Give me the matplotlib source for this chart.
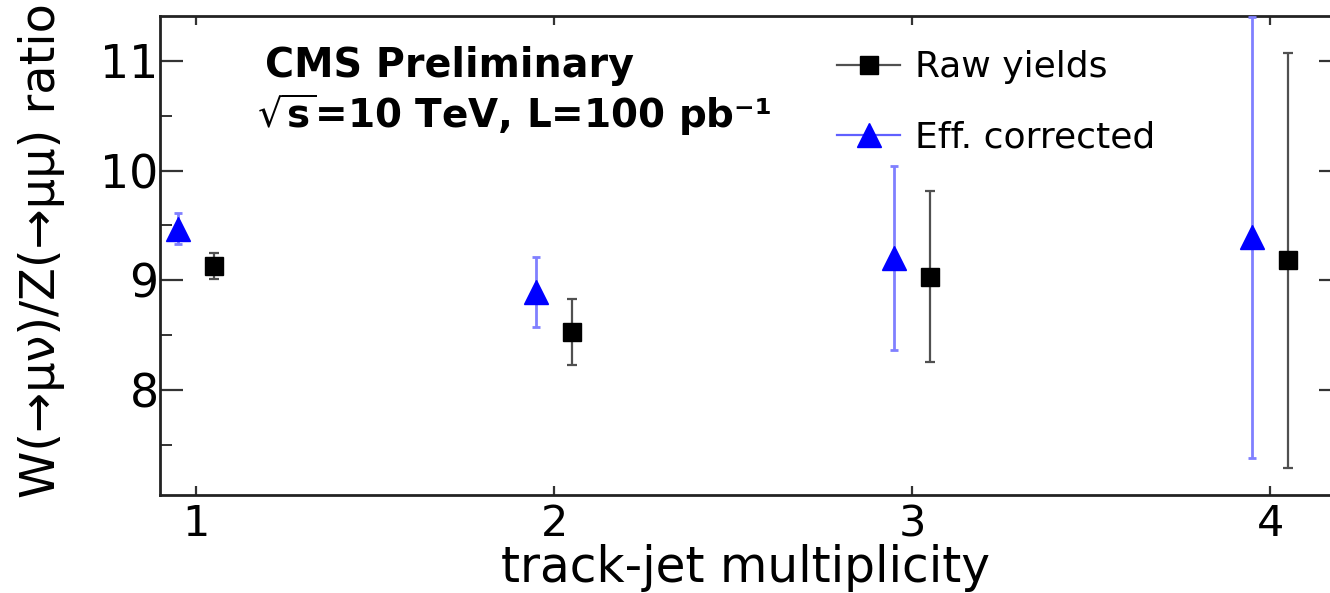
import matplotlib
matplotlib.use("Agg")
import matplotlib.pyplot as plt
from matplotlib.lines import Line2D
from matplotlib.ticker import MultipleLocator, FixedLocator

# ---- data ----
multiplicity = [1, 2, 3, 4]
raw_vals = [9.13, 8.53, 9.03, 9.18]
raw_errs = [0.12, 0.30, 0.78, 1.89]
eff_vals = [9.47, 8.89, 9.20, 9.39]
eff_errs = [0.14, 0.32, 0.84, 2.01]
series_labels = ["Raw yields", "Eff. corrected"]
xlabel = "track-jet multiplicity"
ylabel = "W(→μν)/Z(→μμ) ratio"
x_ticks = [1, 2, 3, 4]
y_ticks = [8, 9, 10, 11]

plt.rcParams['font.family'] = ['DejaVu Sans']
plt.rcParams['mathtext.fontset'] = 'dejavusans'

W, H, DPI = 1330, 593, 100
fig = plt.figure(figsize=(W / DPI, H / DPI), dpi=DPI)
ax = fig.add_axes([160 / W, 1 - 495 / H, (1342 - 160) / W, (495 - 16) / H])

shift = 0.05
eff_x = [m - shift for m in multiplicity]
raw_x = [m + shift for m in multiplicity]

ax.errorbar(eff_x, eff_vals, yerr=eff_errs, fmt='^', color='#0000ff',
            markersize=17, ecolor='#8080ff', elinewidth=2.0, capsize=3.0,
            capthick=2.0, zorder=3)
ax.errorbar(raw_x, raw_vals, yerr=raw_errs, fmt='s', color='black',
            markersize=13, ecolor='#505050', elinewidth=1.6, capsize=3.5,
            capthick=1.6, zorder=3)

ax.set_xlim(0.9, 4.2)
ax.set_ylim(7.04, 11.41)

ax.xaxis.set_major_locator(FixedLocator(x_ticks))
ax.yaxis.set_major_locator(FixedLocator(y_ticks))
ax.yaxis.set_minor_locator(MultipleLocator(0.5))

for s in ax.spines.values():
    s.set_linewidth(2.0)
    s.set_color('#222222')

ax.tick_params(axis='y', which='major', direction='in', length=16.5, width=1.6,
               right=True, left=True, labelsize=33, pad=1, color='#333333')
ax.tick_params(axis='y', which='minor', direction='in', length=8.5, width=1.4,
               right=True, left=True, color='#333333')
ax.tick_params(axis='x', which='major', direction='in', length=6.5, width=1.6,
               top=True, bottom=True, labelsize=31, pad=6, color='#333333')

ax.set_xlabel(xlabel, fontsize=35)
ax.xaxis.set_label_coords(0.495, -0.103)
ax.set_ylabel(ylabel, fontsize=34.5)
ax.yaxis.set_label_coords(-0.08, 0.51)

ax.text(0.0888, 0.8727, "CMS Preliminary", transform=ax.transAxes,
        fontsize=28.5, fontweight='bold', va='baseline', ha='left')
ax.text(0.0821, 0.766, r"$\sqrt{\mathbf{s}}$=10 TeV, L=100 pb⁻¹",
        transform=ax.transAxes, fontsize=28, fontweight='bold',
        va='baseline', ha='left')

handles = [
    Line2D([], [], color='#505050', lw=1.6, marker='s', markersize=13,
           markerfacecolor='black', markeredgecolor='black'),
    Line2D([], [], color='#6060ff', lw=1.6, marker='^', markersize=17,
           markerfacecolor='#0000ff', markeredgecolor='#0000ff'),
]
ax.legend(handles, series_labels, loc='upper left',
          bbox_to_anchor=(0.5728, 0.928), frameon=False, fontsize=26,
          handlelength=1.75, handletextpad=0.42, labelspacing=1.0,
          borderpad=0, borderaxespad=0)

fig.savefig("out.png", dpi=DPI)
